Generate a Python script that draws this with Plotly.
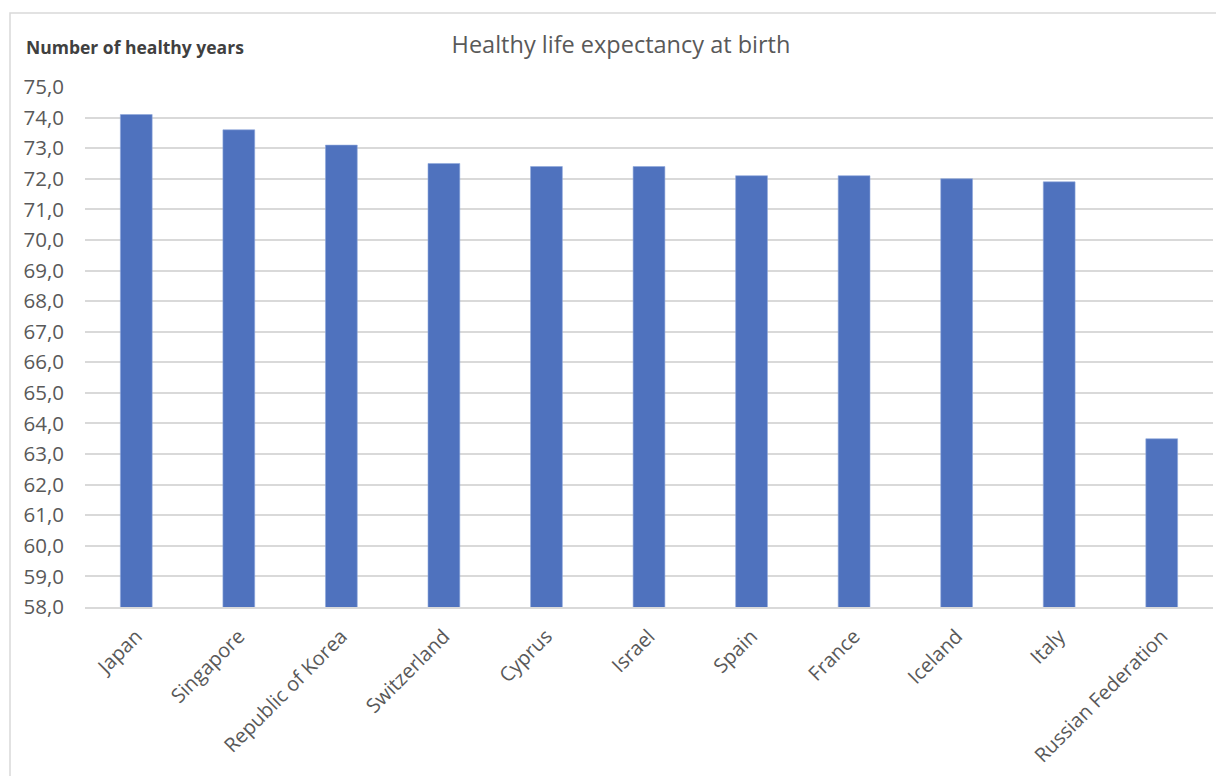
import plotly.graph_objects as go

countries = ["Japan", "Singapore", "Republic of Korea", "Switzerland", "Cyprus",
             "Israel", "Spain", "France", "Iceland", "Italy", "Russian Federation"]
healthy_years = [74.1, 73.6, 73.1, 72.5, 72.4, 72.4, 72.1, 72.1, 72.0, 71.9, 63.5]
tick_vals = [58, 59, 60, 61, 62, 63, 64, 65, 66, 67, 68, 69, 70, 71, 72, 73, 74, 75]

fig = go.Figure()
fig.add_trace(go.Bar(
    x=countries, y=healthy_years,
    marker=dict(color="#4f72be", line=dict(color="#8fa8dc", width=0.6)),
    hoverinfo="x+y",
))

OFF = 8  # browser body margin
W, H = 1224 - OFF, 776 - OFF
L, T = 85 - OFF, 87 - OFF
R = W - (1213 - OFF)
B = H - (607 - OFF)
pw, ph = W - L - R, H - T - B

fig.update_layout(
    width=W, height=H,
    margin=dict(l=L, r=R, t=T, b=B, autoexpand=False),
    paper_bgcolor="white", plot_bgcolor="white",
    separators=",.",
    bargap=0.69,
    showlegend=False,
    font=dict(family="Open Sans, Noto Sans, sans-serif", color="#595959"),
    title=dict(text="Healthy life expectancy at birth", x=(621 - OFF) / W, xanchor="center",
               y=1 - (45 - OFF) / H, yanchor="middle",
               font=dict(size=23.5, color="#595959")),
)
fig.update_yaxes(
    range=[58, 75], tickvals=tick_vals, tickformat=".1f", automargin=False,
    showgrid=True, gridcolor="#d9d9d9", gridwidth=1.5,
    zeroline=False, showline=False, ticks="",
    tickfont=dict(size=20.5, color="#595959"), ticklabelstandoff=20,
)
fig.update_xaxes(
    tickangle=-45, showline=True, linecolor="#d9d9d9", linewidth=1.5, automargin=False,
    ticks="", tickfont=dict(size=20, color="#595959"), ticklabelstandoff=8,
)
fig.add_annotation(
    text="<b>Number of healthy years</b>", xref="paper", yref="paper",
    x=(24 - 85) / pw, y=(607 - 47) / ph, xanchor="left", yanchor="middle",
    showarrow=False, font=dict(size=17.5, color="#404040"),
)
fig.add_shape(
    type="rect", xref="paper", yref="paper",
    x0=(10 - 85) / pw, x1=(1224 + 20 - 85) / pw,
    y0=(607 - (776 + 20)) / ph, y1=(607 - 13) / ph,
    line=dict(color="#d9d9d9", width=1.5), fillcolor="rgba(0,0,0,0)", layer="below",
)
fig.write_html("out.html")
